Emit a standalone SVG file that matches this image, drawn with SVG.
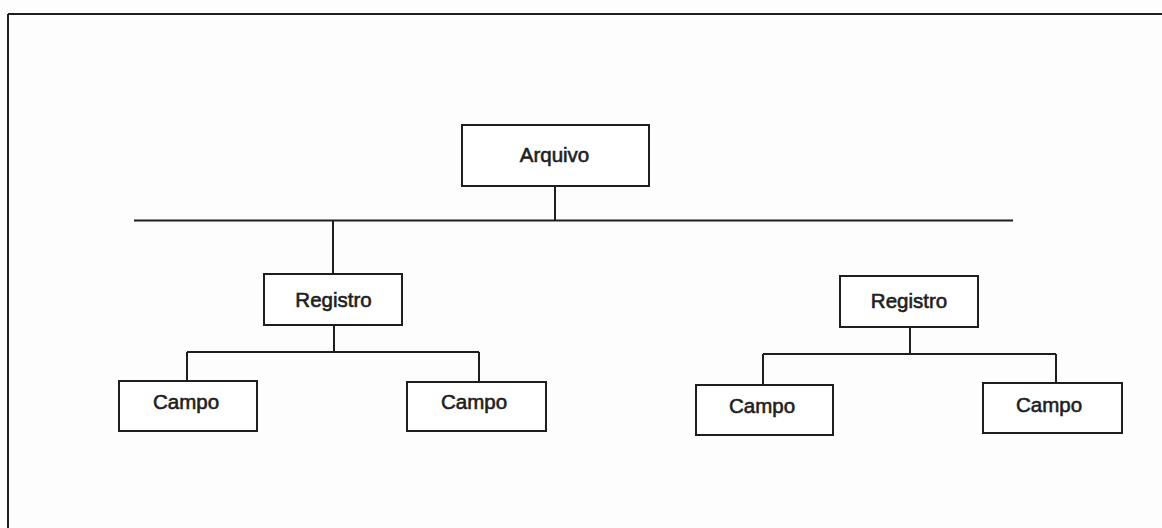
<svg xmlns="http://www.w3.org/2000/svg" width="1162" height="528" viewBox="0 0 1162 528">
<style>
.box{fill:#fff;stroke:#1e1e1e;stroke-width:2}
.ln{stroke:#1e1e1e;stroke-width:2;fill:none}
.t{font-family:"Liberation Sans",Arial,sans-serif;font-size:20.5px;fill:#1e1e1e;stroke:#1e1e1e;stroke-width:0.6;text-anchor:middle}
</style>
<rect x="0" y="0" width="1162" height="528" fill="#fdfdfd"/>
<path class="ln" d="M8 14 H1162 M8 14 V528"/>
<g id="connectors">
<path class="ln" d="M555 186 V220.5 M134 220.5 H1013 M333 220.5 V274"/>
<path class="ln" d="M334 325 V352 M187 352 H479 M187 352 V381 M479 352 V382"/>
<path class="ln" d="M910 327 V354 M763 354 H1056 M763 354 V385 M1056 354 V383"/>
</g>
<g id="arquivo"><rect class="box" x="462" y="125" width="187" height="61"/><text class="t" x="554.5" y="162">Arquivo</text></g>
<g id="registro1"><rect class="box" x="264" y="274" width="138" height="51"/><text class="t" x="333.5" y="307">Registro</text></g>
<g id="registro2"><rect class="box" x="840" y="276" width="138" height="51"/><text class="t" x="909" y="308">Registro</text></g>
<g id="campo1"><rect class="box" x="119" y="381" width="138" height="50"/><text class="t" x="186" y="409">Campo</text></g>
<g id="campo2"><rect class="box" x="407" y="382" width="139" height="49"/><text class="t" x="474" y="409">Campo</text></g>
<g id="campo3"><rect class="box" x="696" y="385" width="137" height="50"/><text class="t" x="762" y="413">Campo</text></g>
<g id="campo4"><rect class="box" x="983" y="383" width="139" height="50"/><text class="t" x="1049" y="412">Campo</text></g>
</svg>
